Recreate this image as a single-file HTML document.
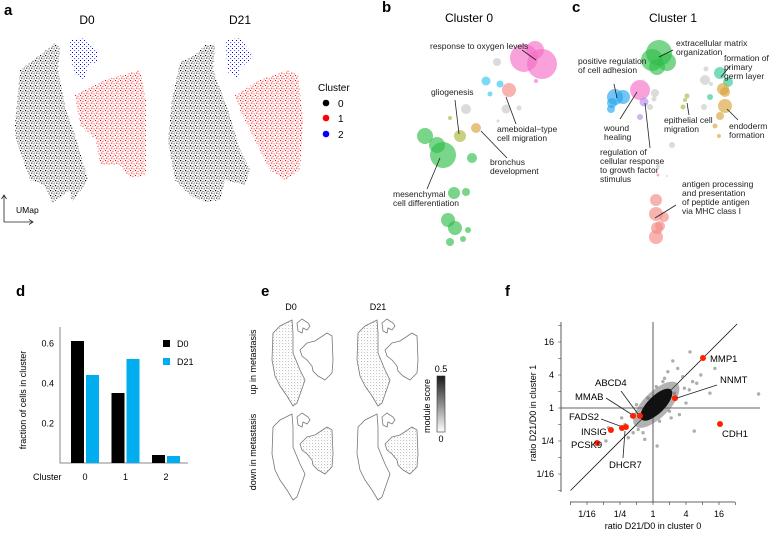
<!DOCTYPE html>
<html><head><meta charset="utf-8"><style>
body{margin:0;background:#fff;}
svg{display:block;font-family:"Liberation Sans",Arial,sans-serif;}
.pl{font-weight:bold;font-size:15px;}
.lb{font-size:8.5px;fill:#222;}
.ln{stroke:#222;stroke-width:0.8;fill:none;}
</style></head><body>
<svg id="fig" width="778" height="533" viewBox="0 0 778 533" xmlns="http://www.w3.org/2000/svg">
<defs>
<pattern id="pBlack" width="5" height="5" patternUnits="userSpaceOnUse"><rect x="0" y="0" width="1.2" height="1.2" fill="#000"/><rect x="2.5" y="0.8" width="1" height="1" fill="#111"/><rect x="1.2" y="2.6" width="1.1" height="1.1" fill="#000"/><rect x="3.6" y="3.4" width="1" height="1" fill="#222"/><rect x="4.2" y="1.8" width="0.7" height="0.7" fill="#444"/></pattern>
<pattern id="pRed" width="5" height="5" patternUnits="userSpaceOnUse"><rect x="0" y="0" width="1.1" height="1.1" fill="#f00"/><rect x="2.5" y="0.8" width="1" height="1" fill="#f11"/><rect x="1.2" y="2.6" width="1.1" height="1.1" fill="#f00"/><rect x="3.6" y="3.4" width="1" height="1" fill="#f22"/></pattern>
<pattern id="pBlue" width="4" height="4" patternUnits="userSpaceOnUse"><rect x="0" y="0" width="1" height="1" fill="#00f"/><rect x="2.2" y="2" width="0.9" height="0.9" fill="#22f"/></pattern>
<pattern id="pGrey" width="3" height="3" patternUnits="userSpaceOnUse"><rect x="0" y="0" width="0.8" height="0.8" fill="#888"/><rect x="1.5" y="1.6" width="0.6" height="0.6" fill="#bbb"/></pattern>
<linearGradient id="cbar" x1="0" y1="0" x2="0" y2="1"><stop offset="0" stop-color="#1a1a1a"/><stop offset="1" stop-color="#fff"/></linearGradient>
</defs>

<g>
<text class="pl" x="4" y="15">a</text>
<text x="87" y="24" font-size="12" text-anchor="middle">D0</text>
<text x="240" y="24" font-size="12" text-anchor="middle">D21</text>
<polygon fill="url(#pBlack)" points="55,43 60,48 58,70 66,110 75,135 88,180 72,202 70,190 52,203 45,185 30,180 16,140 15,125 20,70 40,55"/>
<polygon fill="url(#pRed)" points="75,95 105,80 140,70 146,100 146,175 130,178 120,165 100,165 96,140 80,125"/>
<polygon fill="url(#pBlue)" points="70,40 85,38 98,52 98,62 88,65 85,80 75,75 70,55"/>
<polygon fill="url(#pBlack)" points="205,45 215,45 213,70 228,110 240,150 250,170 245,185 225,180 220,200 205,202 190,195 175,180 168,140 172,100 180,62 195,55"/>
<polygon fill="url(#pRed)" points="235,95 260,80 288,70 298,75 303,120 300,170 285,180 270,170 255,140 240,110"/>
<polygon fill="url(#pBlue)" points="225,40 240,38 253,55 250,60 240,68 238,80 228,72"/>
<text x="318" y="91" font-size="10">Cluster</text>
<circle cx="326" cy="103" r="3.3" fill="#000"/><text x="338" y="107" font-size="10">0</text>
<circle cx="326" cy="118" r="3.3" fill="#f00"/><text x="338" y="122" font-size="10">1</text>
<circle cx="326" cy="134" r="3.3" fill="#00f"/><text x="338" y="138" font-size="10">2</text>
<path d="M4,222 V196 M1.5,199 L4,195 L6.5,199 M4,222 H33 M29,219.5 L33,222 L29,224.5" class="ln"/>
<text x="16" y="213" font-size="8.5">UMap</text>
</g>

<g id="bubbles">
<text class="pl" x="382" y="12">b</text>
<text class="pl" x="572" y="12">c</text>
<text x="469" y="22" font-size="12" text-anchor="middle">Cluster 0</text>
<text x="673" y="22" font-size="12" text-anchor="middle">Cluster 1</text>
</g>

<g id="pd">
<text class="pl" x="16" y="296">d</text>
<text transform="translate(26,400) rotate(-90)" font-size="9" text-anchor="middle">fraction of cells in cluster</text>
<text x="33" y="480" font-size="9">Cluster</text>
<rect x="163" y="340" width="7" height="7" fill="#000"/>
<text x="177" y="347" font-size="9">D0</text>
<rect x="163" y="358" width="7" height="7" fill="#00aeef"/>
<text x="177" y="365" font-size="9">D21</text>
</g>

<g id="pe">
<text class="pl" x="261" y="296">e</text>
<text x="291" y="310" font-size="9" text-anchor="middle">D0</text>
<text x="378" y="310" font-size="9" text-anchor="middle">D21</text>
<text transform="translate(256,362) rotate(-90)" font-size="9" text-anchor="middle">up in metastasis</text>
<text transform="translate(256,452) rotate(-90)" font-size="9" text-anchor="middle">down in metastasis</text>
<text transform="translate(430,406) rotate(-90)" font-size="9" text-anchor="middle">module score</text>
<rect x="437" y="376" width="8" height="56" fill="url(#cbar)" stroke="#333" stroke-width="0.6"/>
<text x="441" y="372" font-size="9" text-anchor="middle">0.5</text>
<text x="441" y="442" font-size="9" text-anchor="middle">0</text>
</g>

<g id="pf">
<text class="pl" x="505" y="296">f</text>
<text transform="translate(536,413) rotate(-90)" font-size="9" text-anchor="middle">ratio D21/D0 in cluster 1</text>
<text x="653" y="529" font-size="9" text-anchor="middle">ratio D21/D0 in cluster 0</text>
</g>
</svg>
<script>
const NS='http://www.w3.org/2000/svg';
function mk(parent,tag,attrs){const e=document.createElementNS(NS,tag);for(const k in attrs)e.setAttribute(k,attrs[k]);parent.appendChild(e);return e;}

const bubX=[524,542,535,536,497,486,500,490,509,506,519,498,466,450,460,476,425,437,443,472,454,466,448,455,468,463,450,
 659,652,667,657,615,623,612,611,640,644,640,655,654,650,643,673,672,658,667,658,687,685,683,705,706,711,704,720,728,710,723,725,725,720,715,719,656,656,656,664,660,657];
const bubY=[58,64,50,81,62,81,84,94,90,109,108,121,109,118,136,128,136,145,155,158,193,192,220,228,230,239,242,
 53,60,62,67,97,97,103,109,90,102,117,93,99,107,81,123,145,166,176,175,96,100,107,80,69,84,107,73,82,97,89,92,106,116,126,136,200,214,237,217,226,228];
const bubR=[14,15,9,2,4,4.5,3.5,2.5,7,4.5,2.5,1.5,5,2,6,5,8,8,13,5,6,4,7,7,3,3,4,
 13,11,9,8,8,7,5,4,10,4.5,3,4,2.5,3,1.5,1,3,2,1,1.5,2.5,2,2.5,5,2.5,2,3,6,5,3,6,5,7,4,2.5,2,6,7,7,5,5,6];
const bubC=['pk','pk','pk','pk','gr','cy','cy','cy','sa','gr','gr','gr','gr','ol','ol','or','gn','gn','gn','gn','gn','gn','gn','gn','gn','gn','gn',
 'gn','gn','gn','gn','bl','bl','bl','bl','pk','pu','pu','gr','gr','gr','gr','gr','gr','gr','gr','sa','ol','ol','ol','gr','gr','gr','gr','te','te','te','or','or','or','or','or','or','sa','sa','sa','sa','sa','sa'];
const colMap={pk:'#f56ec6',gr:'#c8c8c8',cy:'#33c6ef',sa:'#f48a86',ol:'#a9b93a',or:'#d8a43a',gn:'#2fbf4a',bl:'#26a6ee',pu:'#b98af0',te:'#2fc996'};
const bg=document.getElementById('bubbles');
for(let i=0;i<bubX.length;i++){
 const c=mk(bg,'circle',{cx:bubX[i],cy:bubY[i],r:bubR[i],fill:colMap[bubC[i]],'fill-opacity':0.65});
 
 
}
const labs=[
 [430,49,['response to oxygen levels'],'M522,50 L536,60'],
 [431,95,['gliogenesis'],'M455,100 L459,134'],
 [497,132,['ameboidal\u2212type','cell migration'],'M506,97 L516,124'],
 [490,165,['bronchus','development'],'M481,131 L507,158'],
 [393,197,['mesenchymal','cell differentiation'],'M440,158 L427,189'],
 [676,46,['extracellular matrix','organization'],'M659,57 L673,50'],
 [578,64,['positive regulation','of cell adhesion'],'M614,84 L617,98'],
 [724,61,['formation of','primary','germ layer'],'M730,66 L721,77'],
 [604,131,['wound','healing'],'M620,119 L637,92'],
 [664,123,['epithelial cell','migration'],'M689,115 L687,103'],
 [729,129,['endoderm','formation'],'M727,109 L738,120'],
 [600,155,['regulation of','cellular response','to growth factor','stimulus'],'M645,103 L650,148'],
 [682,187,['antigen processing','and presentation','of peptide antigen','via MHC class I'],'M655,218 L676,205']
];
labs.forEach(l=>{
 const t=mk(bg,'text',{x:l[0],y:l[1],class:'lb'});
 
 
 l[2].forEach((s,j)=>{const ts=mk(t,'tspan',{x:l[0],dy:j?9:0});ts.textContent=s;});
 const p=mk(bg,'path',{d:l[3],class:'ln'});
 
 
});

const clusters=['0','1','2'];
const fracD0=[0.61,0.35,0.04];
const fracD21=[0.44,0.52,0.035];
const yTicks=[0.2,0.4,0.6];
const pd=document.getElementById('pd');
const yD=v=>463-v*200;
const xD=i=>85+i*40.5;
mk(pd,'path',{d:'M60,327 V463 H188',stroke:'#888','stroke-width':1,fill:'none'});
yTicks.forEach(v=>{
 const t=mk(pd,'text',{x:54,y:yD(v)+3.5,'font-size':9,'text-anchor':'end'});t.textContent=v;
 
 
});
clusters.forEach((c,i)=>{
 const b0=mk(pd,'rect',{x:xD(i)-14,y:yD(fracD0[i]),width:13,height:463-yD(fracD0[i]),fill:'#000'});
 
 
 const b1=mk(pd,'rect',{x:xD(i)+1,y:yD(fracD21[i]),width:13,height:463-yD(fracD21[i]),fill:'#00aeef'});
 
 
 const t=mk(pd,'text',{x:xD(i),y:480,'font-size':9,'text-anchor':'middle'});t.textContent=c;
 
 
});

const pe=document.getElementById('pe');
const leftR='22,1 23,14 23,34 30,51 35,61 27,84 23,87 17,77 10,67 5,57 2,41 3,14 10,7';
const hook='27,4 32,0 38,4 40,7 37,11 33,9 32,14 28,12';
const rightR='30,31 37,24 45,22 57,14 62,17 63,41 62,54 55,61 48,57 43,52 42,47 37,41 32,37';
[[270,319,'left'],[355,319,'left'],[270,413,'right'],[355,413,'right']].forEach((m,k)=>{
 const g=mk(pe,'g',{transform:`translate(${m[0]},${m[1]})`});
 
 
 [leftR,hook,rightR].forEach((pts,j)=>{
  const hi=(m[2]==='left'&&j===0)||(m[2]==='right'&&j===2);
  mk(g,'polygon',{points:pts,fill:hi?'url(#pGrey)':'#fff','fill-opacity':hi?0.8:1,stroke:'#777','stroke-width':0.8});
 });
});

const geneNames=['MMP1','NNMT','CDH1','ABCD4','MMAB','FADS2','DHCR7','INSIG','PCSK9'];
const geneLog2X=[3.03,1.33,4.06,-0.79,-1.21,-1.64,-1.88,-2.55,-3.39];
const geneLog2Y=[3.03,0.6,-0.97,-0.48,-0.48,-1.15,-1.21,-1.33,-2.12];
const greyLog2X=[2.24,1.2,3.75,6.4,2.5,0.25,-2.85,-2.7,3.45,2.65,1.8,2.0,1.6,-1.5,-1.9,-1.2,0.9,1.5,-0.5,2.2,1.1,-1.0,0.6,-1.7,2.9,1.3,-0.3,0.4,1.9,-0.9,0.2,1.0,-1.3,2.4,0.7,-0.6];
const greyLog2Y=[3.4,2.85,2.4,0.85,-1.4,-2.3,-2.0,-1.2,0.9,1.5,1.9,0.3,-0.4,-1.8,-0.6,-1.5,2.2,2.4,-1.9,1.1,-0.6,0.2,1.6,-1.0,2.0,0.9,0.6,-0.8,1.2,-1.3,1.3,-0.2,-0.5,1.6,1.8,-1.5];
const xTickLabels=['1/16','1/4','1','4','16'];
const tickLog2=[-4,-2,0,2,4];
const xF=v=>653+v*16.5;
const yF=v=>408-v*16.5;
const pf=document.getElementById('pf');
mk(pf,'path',{d:'M561,322 V492 M570,502 H735',stroke:'#333','stroke-width':0.8,fill:'none'});
for(let k=-5;k<=5;k++){
 mk(pf,'path',{d:`M${xF(k)},502 v3 M561,${yF(k)} h-3`,stroke:'#333','stroke-width':0.6});
}
tickLog2.forEach((v,i)=>{
 const tx=mk(pf,'text',{x:xF(v),y:517,'font-size':9,'text-anchor':'middle'});tx.textContent=xTickLabels[i];
 
 
 const ty=mk(pf,'text',{x:554,y:yF(v)+3,'font-size':9,'text-anchor':'end'});ty.textContent=xTickLabels[i];
 
 
});
mk(pf,'path',{d:`M561,${yF(0)} H760 M${xF(0)},322 V502`,stroke:'#333','stroke-width':0.8});
mk(pf,'path',{d:`M${xF(-5)},${yF(-5)} L${xF(5.1)},${yF(5.1)}`,stroke:'#111','stroke-width':0.8});
greyLog2X.forEach((v,i)=>{
 const c=mk(pf,'circle',{cx:xF(v),cy:yF(greyLog2Y[i]),r:1.7,fill:'#777','fill-opacity':0.6});
 
 
});
const cx0=xF(0.2),cy0=yF(0.2);
const halo=mk(pf,'ellipse',{cx:cx0,cy:cy0,rx:30,ry:13,fill:'#666','fill-opacity':0.5,transform:`rotate(-45 ${cx0} ${cy0})`});


const core=mk(pf,'ellipse',{cx:cx0,cy:cy0,rx:21,ry:8.5,fill:'#111',transform:`rotate(-45 ${cx0} ${cy0})`});


const labPos=[[710,362,null],[720,383,'M717,385 L677,398'],[722,437,null],[595,386,'M621,391 L638,414'],[575,400,'M606,398 L631,414'],[569,420,'M601,419 L620,426'],[609,468,'M623,458 L625,431'],[581,435,null],[571,448,null]];
geneNames.forEach((n,i)=>{
 const c=mk(pf,'circle',{cx:xF(geneLog2X[i]),cy:yF(geneLog2Y[i]),r:3,fill:'#f20'});
 
 
 const t=mk(pf,'text',{x:labPos[i][0],y:labPos[i][1],'font-size':9.5});t.textContent=n;
 
 
 if(labPos[i][2]){const p=mk(pf,'path',{d:labPos[i][2],class:'ln'});
  
  }
});
</script>
</body></html>
